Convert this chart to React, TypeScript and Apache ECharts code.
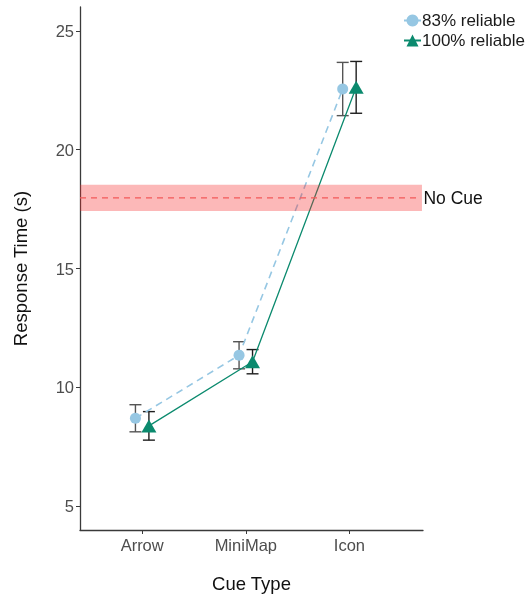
import React, { useEffect, useRef } from "react";
import * as echarts from "echarts";

const categories = ["Arrow", "MiniMap", "Icon"];
const yTicks = [5, 10, 15, 20, 25];
const reliable83Mean = [8.7, 11.35, 22.55];
const reliable83Err = [0.57, 0.57, 1.12];
const reliable100Mean = [8.38, 11.08, 22.62];
const reliable100Err = [0.6, 0.51, 1.09];
const noCueMean = 17.97;
const noCueErr = 0.55;

const DODGE = 0.065;
const FONT = "'Liberation Sans', Arial, sans-serif";

export default function App() {
  const ref = useRef<HTMLDivElement>(null);
  useEffect(() => {
    if (!ref.current) return;
    const chart = echarts.init(ref.current, undefined, { renderer: "svg" });
    const xTicks = categories.map((_, i) => i + 1);
    const s83 = reliable83Mean.map((v, i) => [i + 1 - DODGE, v]);
    const s100 = reliable100Mean.map((v, i) => [i + 1 + DODGE, v]);
    const e83 = reliable83Mean.map((v, i) => [i + 1 - DODGE, v - reliable83Err[i], v + reliable83Err[i]]);
    const e100 = reliable100Mean.map((v, i) => [i + 1 + DODGE, v - reliable100Err[i], v + reliable100Err[i]]);

    const errRender = (color: string) => (params: any, api: any) => {
      const x = api.value(0);
      const lo = api.coord([x, api.value(1)]);
      const hi = api.coord([x, api.value(2)]);
      const w = 6;
      const style = { stroke: color, lineWidth: 1.4 };
      return {
        type: "group",
        children: [
          { type: "line", shape: { x1: lo[0], y1: lo[1], x2: hi[0], y2: hi[1] }, style },
          { type: "line", shape: { x1: lo[0] - w, y1: lo[1], x2: lo[0] + w, y2: lo[1] }, style },
          { type: "line", shape: { x1: hi[0] - w, y1: hi[1], x2: hi[0] + w, y2: hi[1] }, style },
        ],
      };
    };

    chart.setOption({
      animation: false,
      textStyle: { fontFamily: FONT },
      grid: { left: 80, right: 106, top: 7, bottom: 65 },
      legend: {
        data: ["83% reliable", "100% reliable"],
        orient: "vertical",
        left: 398,
        top: 7,
        itemWidth: 17,
        itemHeight: 15,
        itemGap: 3,
        textStyle: { fontSize: 17, color: "#1a1a1a", fontFamily: FONT, padding: [0, 0, 0, -4] },
      },
      xAxis: {
        type: "value",
        min: 0.4,
        max: 3.71,
        name: "Cue Type",
        nameLocation: "middle",
        nameGap: 44,
        nameTextStyle: { fontSize: 18.5, color: "#111", fontFamily: FONT },
        splitLine: { show: false },
        axisLine: { show: true, lineStyle: { color: "#3a3a3a", width: 1.3 } },
        axisTick: { show: true, customValues: xTicks, length: 4, lineStyle: { color: "#3a3a3a" } },
        axisLabel: {
          customValues: xTicks,
          margin: 6,
          fontSize: 16.5,
          color: "#4d4d4d",
          fontFamily: FONT,
          formatter: (v: number) => categories[Math.round(v) - 1] ?? "",
        },
      },
      yAxis: {
        type: "value",
        min: 4,
        max: 26,
        name: "Response Time (s)",
        nameLocation: "middle",
        nameGap: 50,
        nameTextStyle: { fontSize: 18.5, color: "#111", fontFamily: FONT },
        splitLine: { show: false },
        axisLine: { show: true, lineStyle: { color: "#3a3a3a", width: 1.3 } },
        axisTick: { show: true, customValues: yTicks, length: 4, lineStyle: { color: "#3a3a3a" } },
        axisLabel: { customValues: yTicks, margin: 6, fontSize: 16.5, color: "#4d4d4d", fontFamily: FONT },
      },
      series: [
        {
          type: "custom",
          name: "err83",
          z: 2,
          renderItem: errRender("#555555"),
          data: e83,
          silent: true,
        },
        {
          type: "custom",
          name: "err100",
          z: 2,
          renderItem: errRender("#1e1e1e"),
          data: e100,
          silent: true,
        },
        {
          type: "line",
          name: "83% reliable",
          z: 3,
          data: s83,
          symbol: "circle",
          symbolSize: 11,
          itemStyle: { color: "#96C7E3" },
          lineStyle: { color: "#96C7E3", width: 1.6, type: [7, 5] },
        },
        {
          type: "line",
          name: "100% reliable",
          z: 3,
          data: s100,
          symbol: "triangle",
          symbolSize: [15, 13],
          itemStyle: { color: "#0B8A6E" },
          lineStyle: { color: "#0B8A6E", width: 1.3 },
        },
        {
          type: "custom",
          name: "No Cue",
          z: 4,
          silent: true,
          data: [[noCueMean, noCueErr]],
          renderItem: (params: any, api: any) => {
            const m = api.value(0);
            const e = api.value(1);
            const tl = api.coord([0.4, m + e]);
            const br = api.coord([3.7, m - e]);
            const ml = api.coord([0.4, m]);
            const mr = api.coord([3.66, m]);
            return {
              type: "group",
              children: [
                {
                  type: "rect",
                  shape: { x: tl[0], y: tl[1], width: br[0] - tl[0], height: br[1] - tl[1] },
                  style: { fill: "rgba(246, 40, 40, 0.33)" },
                },
                {
                  type: "line",
                  shape: { x1: ml[0], y1: ml[1], x2: mr[0], y2: mr[1] },
                  style: { stroke: "#F45A5A", lineWidth: 1.3, lineDash: [6, 5] },
                },
                {
                  type: "text",
                  x: br[0] + 1.5,
                  y: ml[1],
                  style: {
                    text: "No Cue",
                    fontSize: 17.5,
                    fontFamily: FONT,
                    fill: "#111",
                    verticalAlign: "middle",
                    align: "left",
                  },
                },
              ],
            };
          },
        },
      ],
    });
    return () => chart.dispose();
  }, []);
  return <div ref={ref} style={{ position: "fixed", left: 0, top: 0, width: 529, height: 598 }} />;
}
